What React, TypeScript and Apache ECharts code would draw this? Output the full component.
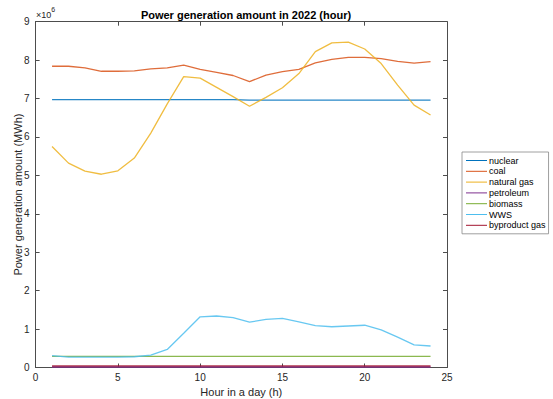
import React, { useEffect, useRef } from "react";
import * as echarts from "echarts";

const hours = [1, 2, 3, 4, 5, 6, 7, 8, 9, 10, 11, 12, 13, 14, 15, 16, 17, 18, 19, 20, 21, 22, 23, 24];
const nuclear = [6.97, 6.97, 6.97, 6.97, 6.97, 6.97, 6.97, 6.97, 6.97, 6.97, 6.97, 6.97, 6.96, 6.96, 6.96, 6.96, 6.96, 6.96, 6.96, 6.96, 6.96, 6.96, 6.96, 6.96];
const coal = [7.84, 7.84, 7.80, 7.71, 7.71, 7.72, 7.77, 7.80, 7.87, 7.76, 7.68, 7.60, 7.44, 7.61, 7.70, 7.76, 7.93, 8.02, 8.07, 8.07, 8.04, 7.97, 7.92, 7.96];
const naturalGas = [5.75, 5.32, 5.11, 5.03, 5.12, 5.45, 6.1, 6.86, 7.57, 7.53, 7.29, 7.05, 6.80, 7.03, 7.28, 7.65, 8.22, 8.45, 8.47, 8.29, 7.91, 7.35, 6.83, 6.57];
const petroleum = [0.01, 0.01, 0.01, 0.01, 0.01, 0.01, 0.01, 0.01, 0.01, 0.01, 0.01, 0.01, 0.01, 0.01, 0.01, 0.01, 0.01, 0.01, 0.01, 0.01, 0.01, 0.01, 0.01, 0.01];
const biomass = [0.29, 0.29, 0.29, 0.29, 0.29, 0.29, 0.29, 0.29, 0.29, 0.29, 0.29, 0.29, 0.29, 0.29, 0.29, 0.29, 0.29, 0.29, 0.29, 0.29, 0.29, 0.29, 0.29, 0.29];
const wws = [0.31, 0.27, 0.27, 0.27, 0.27, 0.28, 0.32, 0.47, 0.89, 1.32, 1.34, 1.30, 1.18, 1.25, 1.28, 1.19, 1.09, 1.06, 1.08, 1.10, 0.98, 0.79, 0.59, 0.56];
const byproductGas = [0.03, 0.03, 0.03, 0.03, 0.03, 0.03, 0.03, 0.03, 0.03, 0.03, 0.03, 0.03, 0.03, 0.03, 0.03, 0.03, 0.03, 0.03, 0.03, 0.03, 0.03, 0.03, 0.03, 0.03];

const seriesNames = ["nuclear", "coal", "natural gas", "petroleum", "biomass", "WWS", "byproduct gas"];
const seriesData = [nuclear, coal, naturalGas, petroleum, biomass, wws, byproductGas];
const colors = ["#0072BD", "#D95319", "#EDB120", "#7E2F8E", "#77AC30", "#4DBEEE", "#A2142F"];

const FONT = "Liberation Sans, Arial, sans-serif";
const AX = "#4d4d4d";

export default function App() {
  const ref = useRef<HTMLDivElement>(null);
  useEffect(() => {
    if (!ref.current) return;
    const chart = echarts.init(ref.current, undefined, { renderer: "svg" });
    const axisCommon = {
      axisLine: { show: true, onZero: false, lineStyle: { color: AX, width: 1 } },
      axisTick: { show: true, inside: true, length: 4, lineStyle: { color: AX } },
      splitLine: { show: false },
    };
    chart.setOption({
      animation: false,
      backgroundColor: "#fff",
      textStyle: { fontFamily: FONT },
      title: {
        text: "Power generation amount in 2022 (hour)",
        left: 241,
        textAlign: "center",
        top: 4,
        textStyle: { fontSize: 11, fontWeight: "bold", color: "#000", fontFamily: FONT },
      },
      legend: {
        orient: "vertical",
        left: 462,
        top: 152,
        itemWidth: 21,
        itemHeight: 1,
        itemGap: 1.8,
        icon: "rect",
        padding: [4, 3, 4, 4],
        borderColor: "#888",
        borderWidth: 0.8,
        backgroundColor: "#fff",
        textStyle: { fontSize: 9, color: "#000", fontFamily: FONT, padding: [0, 0, 0, -3] },
        data: seriesNames,
      },
      grid: { left: 35.6, right: 106, top: 21.7, bottom: 31.5, containLabel: false, outerBoundsMode: "none" },
      xAxis: [
        {
          type: "value",
          min: 0,
          max: 25,
          interval: 5,
          name: "Hour in a day (h)",
          nameLocation: "middle",
          nameGap: 19,
          nameMoveOverlap: false,
          nameTextStyle: { fontSize: 11, color: "#262626", fontFamily: FONT },
          axisLabel: { fontSize: 10, color: "#262626", margin: 5 },
          ...axisCommon,
        },
        {
          type: "value",
          position: "top",
          min: 0,
          max: 25,
          interval: 5,
          axisLabel: { show: false },
          ...axisCommon,
        },
      ],
      yAxis: [
        {
          type: "value",
          min: 0,
          max: 9,
          interval: 1,
          name: "Power generation amount (MWh)",
          nameLocation: "middle",
          nameGap: 12,
          nameMoveOverlap: false,
          nameTextStyle: { fontSize: 11, color: "#262626", fontFamily: FONT },
          axisLabel: { fontSize: 10, color: "#262626", margin: 6 },
          ...axisCommon,
        },
        {
          type: "value",
          position: "right",
          min: 0,
          max: 9,
          interval: 1,
          axisLabel: { show: false },
          ...axisCommon,
        },
      ],
      graphic: [
        {
          type: "text",
          left: 36,
          top: 6,
          style: {
            text: "{a|×10}{b|6}",
            rich: {
              a: { fontSize: 9, fill: "#262626", fontFamily: FONT, verticalAlign: "bottom" },
              b: { fontSize: 7, fill: "#262626", fontFamily: FONT, verticalAlign: "top", padding: [0, 0, 6, 0] },
            },
          },
        },
      ],
      series: seriesNames.map((name, i) => ({
        name,
        type: "line",
        xAxisIndex: 0,
        yAxisIndex: 0,
        data: hours.map((h, j) => [h, seriesData[i][j]]),
        symbol: "none",
        lineStyle: { color: colors[i], width: i === 6 ? 2 : 1.3, opacity: 0.85 },
        itemStyle: { color: colors[i] },
        z: i === 6 ? 1 : 2,
      })),
    });
    return () => chart.dispose();
  }, []);
  return <div ref={ref} style={{ width: 553, height: 399, position: "absolute", left: 0, top: 0 }} />;
}
